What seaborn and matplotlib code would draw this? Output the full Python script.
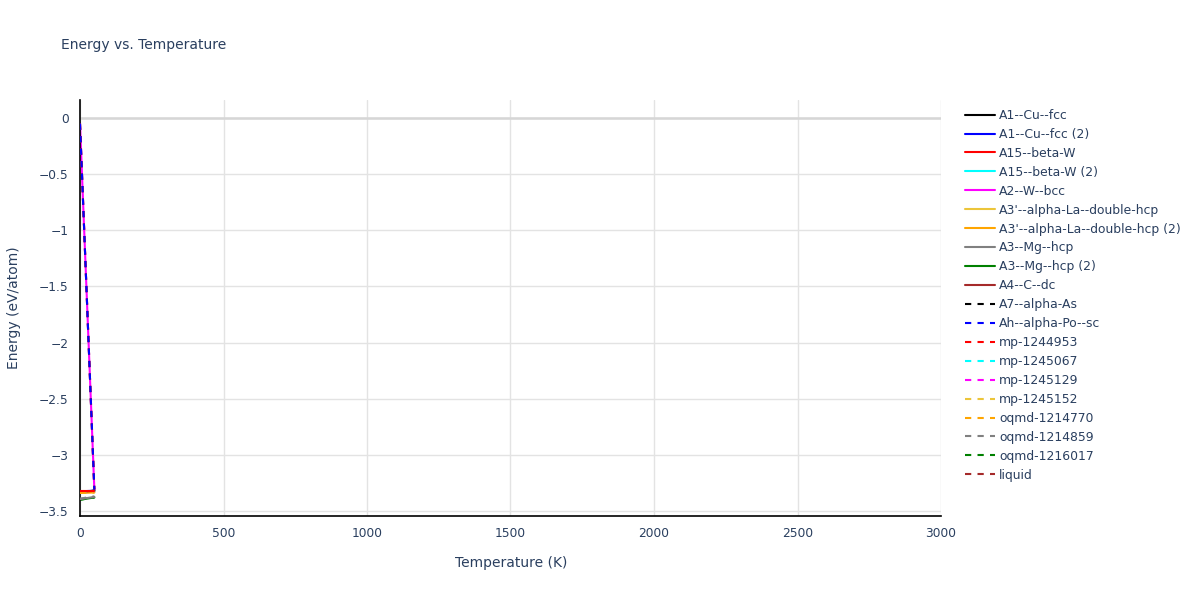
import numpy as np
import seaborn as sns
import pandas as pd
import matplotlib.pyplot as plt
from matplotlib.ticker import MultipleLocator, FuncFormatter


# series (temperature in K, energy in eV/atom)
names = [
    "A1--Cu--fcc", "A1--Cu--fcc (2)", "A15--beta-W", "A15--beta-W (2)",
    "A2--W--bcc", "A3'--alpha-La--double-hcp", "A3'--alpha-La--double-hcp (2)",
    "A3--Mg--hcp", "A3--Mg--hcp (2)", "A4--C--dc",
    "A7--alpha-As", "Ah--alpha-Po--sc", "mp-1244953", "mp-1245067",
    "mp-1245129", "mp-1245152", "oqmd-1214770", "oqmd-1214859",
    "oqmd-1216017", "liquid",
]
colors = [
    "black", "blue", "red", "cyan", "magenta", "#ecc53a", "orange", "gray", "green", "brown",
    "black", "blue", "red", "cyan", "magenta", "#ecc53a", "orange", "gray", "green", "brown",
]
dashed = [False] * 10 + [True] * 10

temps = {
    "A1--Cu--fcc": [0, 50],
    "A1--Cu--fcc (2)": [0, 50],
    "A15--beta-W": [0, 50],
    "A15--beta-W (2)": [0, 50],
    "A2--W--bcc": [0, 50],
    "A3'--alpha-La--double-hcp": [0, 50],
    "A3'--alpha-La--double-hcp (2)": [0, 50],
    "A3--Mg--hcp": [0, 50],
    "A3--Mg--hcp (2)": [0, 50],
    "A4--C--dc": [0, 50],
    "A7--alpha-As": [0, 50],
    "Ah--alpha-Po--sc": [0, 50],
    "mp-1244953": [0, 50],
    "mp-1245067": [0, 50],
    "mp-1245129": [0, 50],
    "mp-1245152": [0, 50],
    "oqmd-1214770": [0, 50],
    "oqmd-1214859": [0, 50],
    "oqmd-1216017": [0, 50],
    "liquid": [0, 50],
}
energies = {
    "A1--Cu--fcc": [-3.33, -3.32],
    "A1--Cu--fcc (2)": [-3.325, -3.32],
    "A15--beta-W": [-3.32, -3.32],
    "A15--beta-W (2)": [-3.33, -3.32],
    "A2--W--bcc": [-0.05, -3.31],
    "A3'--alpha-La--double-hcp": [-3.335, -3.33],
    "A3'--alpha-La--double-hcp (2)": [-3.34, -3.335],
    "A3--Mg--hcp": [-3.395, -3.375],
    "A3--Mg--hcp (2)": [-3.40, -3.38],
    "A4--C--dc": [-3.33, -3.32],
    "A7--alpha-As": [-3.33, -3.32],
    "Ah--alpha-Po--sc": [-0.05, -3.31],
    "mp-1244953": [-0.05, -3.31],
    "mp-1245067": [-3.335, -3.33],
    "mp-1245129": [-3.335, -3.33],
    "mp-1245152": [-3.34, -3.335],
    "oqmd-1214770": [-3.34, -3.335],
    "oqmd-1214859": [-3.39, -3.37],
    "oqmd-1216017": [-3.40, -3.38],
    "liquid": [-0.05, -3.31],
}

# drawing order tweaks so the visible colours match (red/brown under blue dashes, gray on top at bottom)
on_top = {"A2--W--bcc": 2.5, "mp-1244953": 3.5, "liquid": 3.8, "Ah--alpha-Po--sc": 4,
          "A15--beta-W": 3.9, "A3--Mg--hcp": 3.7, "oqmd-1214859": 3.75,
          "A3--Mg--hcp (2)": 2.4, "oqmd-1216017": 2.4}

txt = "#2a3f5f"
sns.set_style("white")
plt.rcParams["font.family"] = ["DejaVu Sans"]

fig = plt.figure(figsize=(12, 6), dpi=100)
ax = fig.add_axes([80 / 1200, 1 - 516 / 600, 861 / 1200, 416 / 600])

# zero line sits under the data
ax.axhline(0, color="#d6d6d6", lw=1.8, zorder=1)

for i, name in enumerate(names):
    df = pd.DataFrame({"T": temps[name], "E": energies[name]})
    ls = (0, (3, 3)) if dashed[i] else "-"
    z = on_top.get(name, 3 + i * 0.01)
    sns.lineplot(data=df, x="T", y="E", ax=ax, color=colors[i], linestyle=ls,
                 lw=1.5, sort=False, estimator=None, label=name, zorder=z)

ax.set_xlim(0, 3000)
ax.set_ylim(-3.545, 0.16)
ax.xaxis.set_major_locator(MultipleLocator(500))
ax.xaxis.set_minor_locator(MultipleLocator(100))
ax.yaxis.set_major_locator(MultipleLocator(0.5))
ax.yaxis.set_minor_locator(MultipleLocator(0.1))
ax.yaxis.set_major_formatter(FuncFormatter(lambda v, p: f"{v:g}".replace("-", "\u2212")))
ax.grid(True, which="major", color="#e3e3e3", lw=1)
ax.set_axisbelow(True)

for s in ["top", "right"]:
    ax.spines[s].set_visible(False)
for s in ["left", "bottom"]:
    ax.spines[s].set_color("black")
    ax.spines[s].set_linewidth(1.2)

ax.tick_params(which="major", length=4, width=1, color="#444444", labelsize=8.8,
               labelcolor=txt, direction="out", pad=4)
ax.tick_params(which="minor", length=4, width=1, color="#444444", direction="out")
ax.set_xlabel("")
ax.set_ylabel("")

fig.text(61 / 1200, 1 - 45 / 600, "Energy vs. Temperature", fontsize=10, color=txt, va="center")
fig.text(511 / 1200, 1 - 563 / 600, "Temperature (K)", fontsize=10, color=txt, ha="center", va="center")
fig.text(14 / 1200, 1 - 308 / 600, "Energy (eV/atom)", fontsize=10, color=txt, ha="center",
         va="center", rotation=90)

handles, labels = ax.get_legend_handles_labels()
leg = ax.legend(handles, labels, loc="upper left", bbox_to_anchor=(960 / 1200, 1 - 104 / 600),
                bbox_transform=fig.transFigure, frameon=False, fontsize=8.9,
                handlelength=2.4, handletextpad=0.35, labelspacing=0.48, borderaxespad=0)
for t in leg.get_texts():
    t.set_color(txt)

fig.savefig("out.png", dpi=100)
